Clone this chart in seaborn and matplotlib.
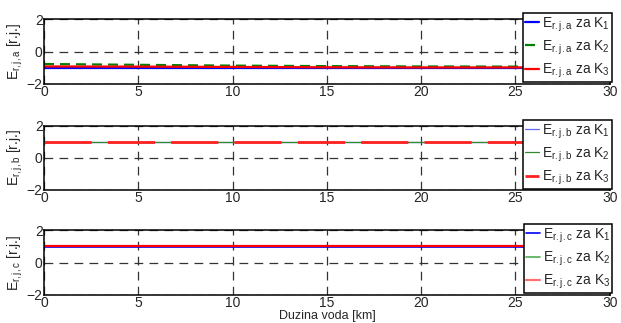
import numpy as np
import pandas as pd
import matplotlib
matplotlib.use("Agg")
import matplotlib.pyplot as plt
import seaborn as sns

# distance along the line [km]
distance = [0, 5, 10, 15, 20, 25.6]

# panel a
ea_k1 = [-1.02, -1.02, -1.02, -1.02, -1.02, -1.02]
ea_k2 = [-0.77, -0.82, -0.87, -0.90, -0.92, -0.93]
ea_k3 = [-0.92, -0.93, -0.95, -0.97, -0.98, -0.98]

# panel b
eb_k1 = [1.0, 1.0, 1.0, 1.0, 1.0, 1.0]
eb_k2 = [1.0, 1.0, 1.0, 1.0, 1.0, 1.0]
eb_k3 = [1.0, 1.0, 1.0, 1.0, 1.0, 1.0]

# panel c
ec_k1 = [0.97, 0.97, 0.97, 0.97, 0.97, 0.97]
ec_k2 = [1.0, 1.0, 1.0, 1.0, 1.0, 1.0]
ec_k3 = [1.0, 1.0, 1.0, 1.0, 1.0, 1.0]

x_ticks = [0, 5, 10, 15, 20, 25, 30]
y_ticks = [-2, 0, 2]


def main():
    sns.set_style("white")
    plt.rcParams['font.family'] = ['Liberation Sans', 'DejaVu Sans']
    plt.rcParams['mathtext.fontset'] = 'custom'
    plt.rcParams['mathtext.rm'] = 'Liberation Sans'
    plt.rcParams['mathtext.it'] = 'Liberation Sans'
    plt.rcParams['font.size'] = 10

    fig = plt.figure(figsize=(6.21, 3.23), dpi=100)
    boxes = [
        [0.0709, 0.740, 0.911, 0.201],
        [0.0709, 0.412, 0.911, 0.198],
        [0.0709, 0.0867, 0.911, 0.201],
    ]

    panels = [
        ("a", [ea_k1, ea_k2, ea_k3],
         [dict(color="#0000ff", lw=1.6, ls="-"),
          dict(color="#008000", lw=1.6, dashes=(4.5, 2.7)),
          dict(color="#ff0000", lw=1.6, ls="-")]),
        ("b", [eb_k1, eb_k2, eb_k3],
         [dict(color="#6666ff", lw=0.9, ls="-"),
          dict(color="#2e8b2e", lw=0.9, ls="-"),
          dict(color="#ff2020", lw=2.0, dashes=(17, 5.8))]),
        ("c", [ec_k1, ec_k2, ec_k3],
         [dict(color="#0000ff", lw=1.2, ls="-"),
          dict(color="#4caf50", lw=1.2, ls="-"),
          dict(color="#ff7070", lw=1.6, ls="-")]),
    ]

    for box, (tag, series, styles) in zip(boxes, panels):
        ax = fig.add_axes(box)
        for k, (vals, st) in enumerate(zip(series, styles), start=1):
            df = pd.DataFrame({"x": distance, "y": vals})
            lbl = r"$\mathrm{E_{r.j.%s}}$ za $\mathrm{K_{%d}}$" % (tag, k)
            sns.lineplot(x="x", y="y", data=df, ax=ax, label=lbl, **st)
        if tag == "c":
            # the drawn K3 line in panel c is full red, the legend entry is lighter
            ax.lines[2].set_color("#ff0000")
        ax.set_xlim(0, 30)
        ax.set_ylim(-2, 2)
        ax.set_xticks(x_ticks)
        ax.set_yticks(y_ticks)
        ax.tick_params(direction="in", length=3, labelsize=10, pad=1)
        ax.grid(True, color="#333333", linestyle=(0, (7, 5)), linewidth=0.9)
        for sp in ax.spines.values():
            sp.set_color("k")
            sp.set_linewidth(1.1)
        ax.set_xlabel("")
        ax.set_ylabel(r"$\mathrm{E_{r,j,%s}}$ [r.j.]" % tag, fontsize=10, labelpad=1)
        handles, labels = ax.get_legend_handles_labels()
        if tag == "c":
            handles[2] = plt.Line2D([], [], color="#ff7070", lw=1.6)
        leg = ax.legend(handles, labels, loc="upper right",
                        bbox_to_anchor=(1.004, 1.09),
                        frameon=True, fancybox=False, edgecolor="k",
                        framealpha=1, fontsize=10, handlelength=1.0,
                        handletextpad=0.2, borderpad=0.15, labelspacing=0.35,
                        borderaxespad=0)
        leg.get_frame().set_linewidth(1.1)
        if tag == "c":
            ax.set_xlabel("Duzina voda [km]", fontsize=9)
            ax.xaxis.set_label_coords(0.5, -0.23)

    plt.savefig("out.png", dpi=100)
    plt.close('all')


if __name__ == "__main__":
    main()
